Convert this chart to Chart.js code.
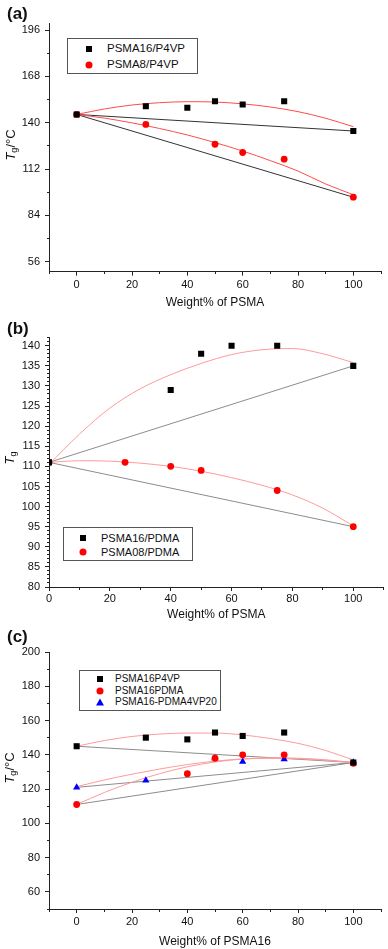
<!DOCTYPE html>
<html lang="en">
<head>
<meta charset="UTF-8" />
<title>Tg vs Weight% of PSMA</title>
<script src="https://cdn.jsdelivr.net/npm/chart.js"></script>
<style>
  body { margin: 0; background: #fff; font-family: 'Liberation Sans', Arial, sans-serif; color: #111; }
  #page { position: relative; width: 388px; height: 949px; overflow: hidden; }
  canvas { position: absolute; left: 0; }
  .tag { position: absolute; left: 7px; transform: translateY(-50%); font-weight: bold; font-size: 17px; line-height: 1; }
  .ytitle { position: absolute; transform: translate(-50%, -50%) rotate(-90deg); font-size: 13px; line-height: 1; white-space: nowrap; }
  .ytitle sub { font-size: 9px; vertical-align: -2px; }
  .legend { position: absolute; border: 1px solid #555; background: #fff; box-sizing: border-box; z-index: 2; }
  .mk { position: absolute; transform: translate(-50%, -50%); display: block; }
  .lt { position: absolute; transform: translateY(-50%); white-space: nowrap; line-height: 1; }
  .sq { width: 6px; height: 6px; background: #000; }
  .ci { width: 7px; height: 7px; border-radius: 50%; background: #f00; }
  .tr { width: 0; height: 0; border-left: 4px solid transparent; border-right: 4px solid transparent; border-bottom: 7px solid #00f; }
</style>
</head>
<body>
<div id="page">
  <canvas id="chartA" width="388" height="310" style="top:0"></canvas>
  <canvas id="chartB" width="388" height="310" style="top:312px"></canvas>
  <canvas id="chartC" width="388" height="324" style="top:625px"></canvas>

  <div class="tag" style="top:12.5px">(a)</div>
  <div class="tag" style="top:327.5px">(b)</div>
  <div class="tag" style="top:636px">(c)</div>

  <div class="ytitle" style="left:11px; top:145px"><i>T</i><sub>g</sub>/°C</div>
  <div class="ytitle" style="left:10px; top:458px"><i>T</i><sub>g</sub></div>
  <div class="ytitle" style="left:10px; top:768px"><i>T</i><sub>g</sub>/°C</div>
</div>

<script>
  // shared x positions of the fitted curves and the straight tie lines
  const fitX = [0, 10, 20, 30, 40, 50, 60, 70, 80, 90, 100];
  const tieX = [0, 100];

  // panel (a)
  const aNames = ['PSMA16/P4VP', 'PSMA8/P4VP'];
  const a16X = [0, 25, 40, 50, 60, 75, 100];
  const a16Y = [145, 150, 149, 153, 151, 153, 135];
  const a8X = [0, 25, 50, 60, 75, 100];
  const a8Y = [145, 139, 127, 122, 118, 95];
  const a16Fit = [145, 148.3, 150.7, 152.1, 152.7, 152.5, 151.4, 149.5, 146.7, 142.7, 137.6];
  const a8Fit = [145, 142.8, 139.9, 136.5, 132.6, 128, 122.9, 117.1, 110.8, 103, 96.5];
  const a16Tie = [145, 135];
  const a8Tie = [145, 95];

  // panel (b)
  const bNames = ['PSMA16/PDMA', 'PSMA08/PDMA'];
  const b16X = [0, 40, 50, 60, 75, 100];
  const b16Y = [111, 129, 138, 140, 140, 135];
  const b08X = [0, 25, 40, 50, 75, 100];
  const b08Y = [111, 111, 110, 109, 104, 95];
  const b16Fit = [110.5, 118, 124.5, 129.3, 132.8, 135.6, 137.8, 139, 139.3, 138, 135.8];
  const b08Fit = [111, 111.4, 111.3, 110.8, 110, 108.8, 107.2, 105.3, 102.9, 99.6, 95.2];
  const b16Tie = [111, 135];
  const b08Tie = [111, 95];

  // panel (c)
  const cNames = ['PSMA16P4VP', 'PSMA16PDMA', 'PSMA16-PDMA4VP20'];
  const cP4vpX = [0, 25, 40, 50, 60, 75, 100];
  const cP4vpY = [145, 150, 149, 153, 151, 153, 135.5];
  const cPdmaX = [0, 40, 50, 60, 75, 100];
  const cPdmaY = [111, 129, 138, 140, 140, 135];
  const cMixX = [0, 25, 50, 60, 75, 100];
  const cMixY = [121, 125, 138, 136, 137.5, 135.5];
  const cP4vpFit = [145, 148.3, 150.7, 152.1, 152.7, 152.7, 151.6, 149.5, 146.7, 142.5, 137];
  const cPdmaFit = [111, 118, 124, 129, 133, 135.8, 137.5, 138, 137.7, 136.8, 135.5];
  const cMixFit = [121.4, 125.3, 128.7, 131.7, 134.3, 136.3, 137.6, 138.2, 138, 137.1, 135.5];
  const cP4vpTie = [145, 135.5];
  const cPdmaTie = [111, 135.5];
  const cMixTie = [121, 135.5];

  Chart.defaults.font.family = "'Liberation Sans', Arial, sans-serif";
  Chart.defaults.color = '#111';

  const pts = (xs, ys) => xs.map((x, i) => ({ x: x, y: ys[i] }));
  const isMajor = (v, every) => Math.abs(v / every - Math.round(v / every)) < 1e-6;

  function markers(label, xs, ys, style, color, r, clip) {
    const ds = {
      label: label, data: pts(xs, ys), showLine: false,
      pointStyle: style, pointRadius: r, backgroundColor: color,
      borderColor: color, pointBorderWidth: 0, order: 0
    };
    if (clip !== undefined) ds.clip = clip;
    return ds;
  }

  function line(xs, ys, color, curved) {
    return {
      data: pts(xs, ys), showLine: true, pointRadius: 0, borderWidth: 1,
      borderColor: color, fill: false, order: 1,
      tension: curved ? 0.4 : 0,
      cubicInterpolationMode: curved ? 'monotone' : 'default'
    };
  }

  function xAxis(min, max, title, labelPad, height) {
    return {
      type: 'linear', position: 'bottom', min: min, max: max,
      ticks: {
        stepSize: 10, autoSkip: false, maxRotation: 0, includeBounds: false,
        padding: labelPad, font: { size: 11 },
        callback: v => isMajor(v, 20) ? v : ''
      },
      grid: {
        drawOnChartArea: false, tickLength: 4, tickColor: '#222',
        tickBorderDash: c => (c.tick && isMajor(c.tick.value, 20)) ? [] : [2, 10]
      },
      border: { display: true, color: '#222', width: 1 },
      title: { display: true, text: title, font: { size: 12 }, padding: 0 },
      afterFit: s => { s.height = height; }
    };
  }

  function yAxis(min, max, step, major) {
    return {
      type: 'linear', position: 'left', min: min, max: max,
      ticks: {
        stepSize: step, autoSkip: false, includeBounds: false,
        padding: 5, font: { size: 11 },
        callback: v => isMajor(v, major) ? v : ''
      },
      grid: {
        drawOnChartArea: false, tickLength: 4, tickColor: '#222',
        tickBorderDash: c => (c.tick && isMajor(c.tick.value, major)) ? [] : [0, 2, 2, 10]
      },
      border: { display: true, color: '#222', width: 1 },
      afterFit: s => { s.width = 49; }
    };
  }

  function makeChart(id, datasets, xs, ys, padTop, padRight) {
    return new Chart(document.getElementById(id), {
      type: 'scatter',
      data: { datasets: datasets },
      options: {
        responsive: false, animation: false, devicePixelRatio: 1, events: [],
        layout: { padding: { top: padTop, right: padRight, bottom: 0, left: 0 } },
        plugins: { legend: { display: false }, tooltip: { enabled: false } },
        scales: { x: xs, y: ys }
      }
    });
  }

  // (a)
  makeChart('chartA', [
    markers(aNames[0], a16X, a16Y, 'rect', '#000', 4.3),
    markers(aNames[1], a8X, a8Y, 'circle', '#f00', 3.4),
    line(fitX, a16Fit, '#ff4b4b', true),
    line(fitX, a8Fit, '#ff4b4b', true),
    line(tieX, a16Tie, '#333', false),
    line(tieX, a8Tie, '#333', false)
  ], xAxis(-10, 110, 'Weight% of PSMA', 3, 38.3), yAxis(50, 200, 14, 28), 23.4, 7);

  // (b)
  makeChart('chartB', [
    markers(bNames[0], b16X, b16Y, 'rect', '#000', 4.3, 0),
    markers(bNames[1], b08X, b08Y, 'circle', '#f00', 3.4, 0),
    line(fitX, b16Fit, '#ff9a9a', true),
    line(fitX, b08Fit, '#ff9a9a', true),
    line(tieX, b16Tie, '#8c8c8c', false),
    line(tieX, b08Tie, '#8c8c8c', false)
  ], xAxis(0, 110, 'Weight% of PSMA', 1, 35), yAxis(80, 142, 1, 5), 25.7, 1.3);

  // (c)
  makeChart('chartC', [
    markers(cNames[0], cP4vpX, cP4vpY, 'rect', '#000', 4.3),
    markers(cNames[1], cPdmaX, cPdmaY, 'circle', '#f00', 3.4),
    markers(cNames[2], cMixX, cMixY, 'triangle', '#00f', 4.2),
    line(fitX, cP4vpFit, '#ff9a9a', true),
    line(fitX, cPdmaFit, '#ff9a9a', true),
    line(fitX, cMixFit, '#ff9a9a', true),
    line(tieX, cP4vpTie, '#8c8c8c', false),
    line(tieX, cPdmaTie, '#8c8c8c', false),
    line(tieX, cMixTie, '#8c8c8c', false)
  ], xAxis(-10, 110, 'Weight% of PSMA16', 2, 40), yAxis(50, 200, 10, 20), 27, 7);

  // boxed legends inside the plot areas
  const page = document.getElementById('page');
  function addLegend(box, names, kinds, rowsY, markX, textX, size) {
    const lg = document.createElement('div');
    lg.className = 'legend';
    lg.style.left = box[0] + 'px';
    lg.style.top = box[1] + 'px';
    lg.style.width = box[2] + 'px';
    lg.style.height = box[3] + 'px';
    names.forEach((name, i) => {
      const mk = document.createElement('span');
      mk.className = 'mk ' + kinds[i];
      mk.style.left = markX + 'px';
      mk.style.top = rowsY[i] + 'px';
      const tx = document.createElement('span');
      tx.className = 'lt';
      tx.textContent = name;
      tx.style.left = textX + 'px';
      tx.style.top = rowsY[i] + 'px';
      tx.style.fontSize = size + 'px';
      lg.appendChild(mk);
      lg.appendChild(tx);
    });
    page.appendChild(lg);
  }

  addLegend([67, 38, 131, 36], aNames, ['sq', 'ci'], [10, 26], 21, 39, 11.5);
  addLegend([63, 527, 130, 34], bNames, ['sq', 'ci'], [10, 24], 19, 37, 11);
  addLegend([79, 670, 142, 41], cNames, ['sq', 'ci', 'tr'], [8, 19.5, 31], 20, 35, 10);
</script>
</body>
</html>
